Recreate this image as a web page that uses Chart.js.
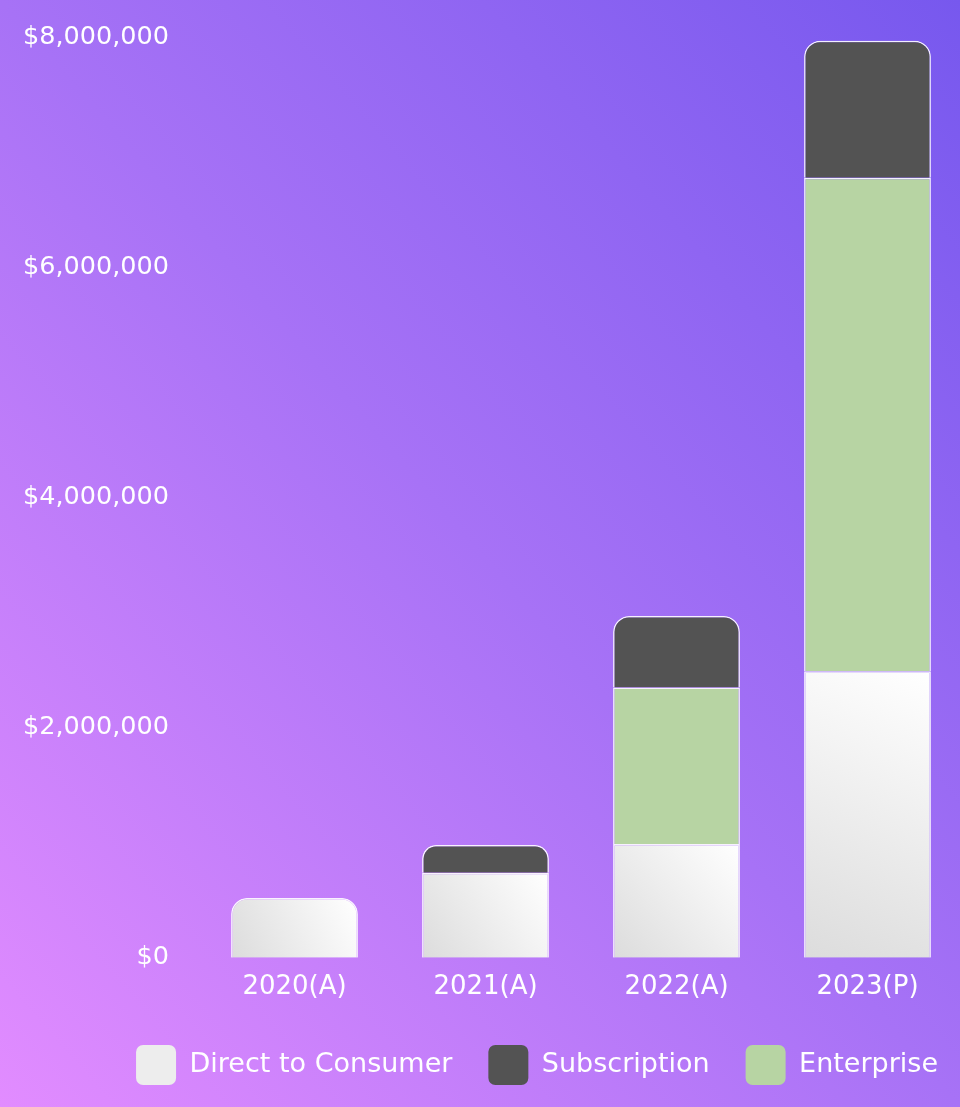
<!DOCTYPE html>
<html>
<head>
<meta charset="utf-8">
<script src="https://cdn.jsdelivr.net/npm/chart.js@4.4.1/dist/chart.umd.min.js"></script>
<style>
    html, body { margin: 0; padding: 0; overflow: hidden; }
    body {
        width: 960px;
        height: 1107px;
        background: linear-gradient(to top right, #e28cff 0%, #a772f6 50%, #7758ee 100%);
    }
    #wrap { position: relative; width: 963px; height: 1107px; }
</style>
</head>
<body>
<div id="wrap"><canvas id="revenueChart"></canvas></div>
<script>
const years = ['2020(A)', '2021(A)', '2022(A)', '2023(P)'];
const directToConsumer = [520000, 740000, 990000, 2490000];
const enterprise = [0, 0, 1360000, 4290000];
const subscription = [0, 240000, 620000, 1190000];
const yTicks = [0, 2000000, 4000000, 6000000, 8000000];
const legendOrder = ['Direct to Consumer', 'Subscription', 'Enterprise'];

const FONT = 'DejaVu Sans';

// is this segment the last non-empty one in its stack
function isTop(ctx) {
    const ds = ctx.chart.data.datasets;
    for (let d = ds.length - 1; d >= 0; d--) {
        if (ds[d].data[ctx.dataIndex]) return d === ctx.datasetIndex;
    }
    return false;
}

function dtcFill(ctx) {
    const chart = ctx.chart;
    if (!chart.chartArea || ctx.type !== 'data') return '#eeeeee';
    const x = chart.scales.x.getPixelForValue(ctx.dataIndex);
    const y0 = chart.scales.y.getPixelForValue(0);
    const y1 = chart.scales.y.getPixelForValue(ctx.raw || 0);
    const g = chart.ctx.createLinearGradient(x - 63, y0, x + 63, y1);
    g.addColorStop(0, '#dcdcdc');
    g.addColorStop(1, '#ffffff');
    return g;
}

const common = {
    borderColor: 'rgba(255,255,255,0.9)',
    borderWidth: ctx => (ctx.raw ? 1.5 : 0),
    borderRadius: ctx => (isTop(ctx) ? {topLeft: 16, topRight: 16, bottomLeft: 0, bottomRight: 0} : 0),
    borderSkipped: 'start',
    barPercentage: 0.83,
    categoryPercentage: 0.8
};

// nudge the legend row a little to the right, like the original
const legendShift = {
    id: 'legendShift',
    afterLayout(chart) {
        chart.legend.left += 11;
        chart.legend.right += 11;
    }
};

new Chart(document.getElementById('revenueChart'), {
    type: 'bar',
    data: {
        labels: years,
        datasets: [
            { label: 'Direct to Consumer', data: directToConsumer, backgroundColor: dtcFill, ...common },
            { label: 'Enterprise', data: enterprise, backgroundColor: '#b7d4a3', ...common },
            { label: 'Subscription', data: subscription, backgroundColor: '#535353', ...common }
        ]
    },
    plugins: [legendShift],
    options: {
        responsive: true,
        maintainAspectRatio: false,
        animation: false,
        layout: { padding: { top: 21, left: 1, right: 0, bottom: 12 } },
        scales: {
            x: {
                stacked: true,
                grid: { display: false },
                border: { display: false },
                ticks: { color: '#ffffff', padding: 6, font: { family: FONT, size: 26 } }
            },
            y: {
                stacked: true,
                min: 0,
                max: 8000000,
                grid: { display: false },
                border: { display: false },
                afterBuildTicks: axis => { axis.ticks = yTicks.map(v => ({ value: v })); },
                ticks: {
                    color: '#ffffff',
                    padding: 22,
                    font: { family: FONT, size: 25.5 },
                    callback: v => '$' + Number(v).toLocaleString('en-US')
                }
            }
        },
        plugins: {
            tooltip: { enabled: false },
            legend: {
                position: 'bottom',
                align: 'end',
                labels: {
                    color: '#ffffff',
                    font: { family: FONT, size: 27 },
                    boxWidth: 40,
                    boxHeight: 40,
                    useBorderRadius: true,
                    borderRadius: 7,
                    padding: 36,
                    sort: (a, b) => legendOrder.indexOf(a.text) - legendOrder.indexOf(b.text),
                    generateLabels: chart => {
                        const items = Chart.defaults.plugins.legend.labels.generateLabels(chart);
                        items.forEach(it => {
                            if (it.text === 'Direct to Consumer') it.fillStyle = '#ededed';
                            it.lineWidth = 0;
                        });
                        return items;
                    }
                }
            }
        }
    }
});
</script>
</body>
</html>
